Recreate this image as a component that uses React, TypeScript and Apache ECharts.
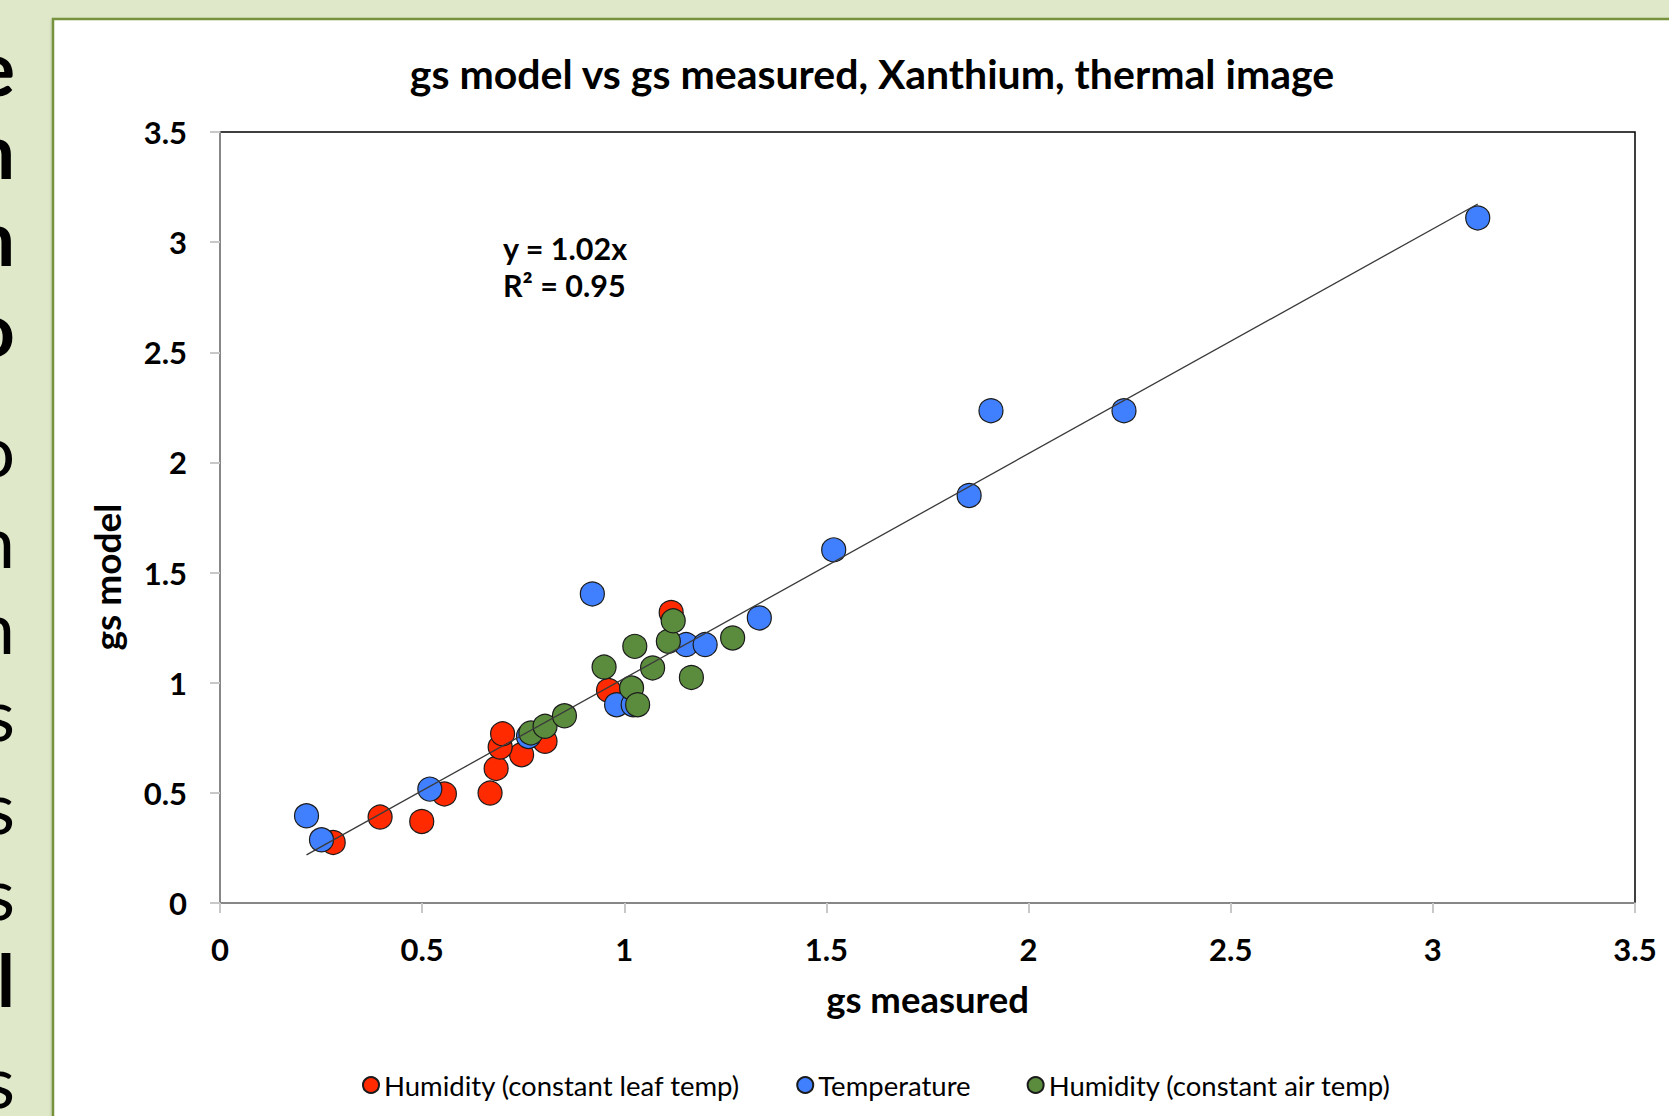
import React, { useEffect, useRef } from "react";
import * as echarts from "echarts";

const seriesNames = [
  "Humidity (constant leaf temp)",
  "Temperature",
  "Humidity (constant air temp)",
];
const seriesColors = ["#ff2a00", "#4080ff", "#5b8c3e"];

const humidityLeafX = [0.28, 0.396, 0.499, 0.555, 0.668, 0.683, 0.746, 0.693, 0.699, 0.804, 0.961, 1.116];
const humidityLeafY = [0.275, 0.39, 0.37, 0.495, 0.499, 0.611, 0.673, 0.708, 0.768, 0.734, 0.965, 1.319];

const temperatureX = [0.214, 0.251, 0.519, 0.763, 0.921, 0.981, 1.022, 1.153, 1.2, 1.334, 1.518, 1.853, 1.907, 2.236, 3.111];
const temperatureY = [0.396, 0.287, 0.517, 0.756, 1.403, 0.9, 0.9, 1.173, 1.173, 1.294, 1.603, 1.85, 2.235, 2.235, 3.11];

const humidityAirX = [0.769, 0.804, 0.852, 0.95, 1.026, 1.07, 1.018, 1.033, 1.109, 1.121, 1.166, 1.268];
const humidityAirY = [0.772, 0.802, 0.85, 1.071, 1.165, 1.067, 0.976, 0.9, 1.188, 1.281, 1.024, 1.203];

const trendSlope = 1.02;
const rSquared = 0.95;
const axisMin = 0;
const axisMax = 3.5;
const axisStep = 0.5;

const titleText = "gs model vs gs measured, Xanthium, thermal image";
const xAxisTitle = "gs measured";
const yAxisTitle = "gs model";

const sideLetters = ["e", "n", "n", "o", "o", "n", "n", "s", "s", "s", "l", "s"];
const sideLetterY = [66, 149, 236, 327, 449, 540, 626, 713, 806, 892, 979, 1080];

const FONT = "Lato, 'Open Sans', sans-serif";

function pairs(xs: number[], ys: number[]) {
  return xs.map((x, i) => [x, ys[i]]);
}

export default function App() {
  const ref = useRef<HTMLDivElement>(null);
  useEffect(() => {
    if (!ref.current) return;
    const chart = echarts.init(ref.current, undefined, { renderer: "svg" });
    const allX = [...humidityLeafX, ...temperatureX, ...humidityAirX];
    const xLo = Math.min(...allX);
    const xHi = Math.max(...allX);
    const trend = [
      [xLo, trendSlope * xLo],
      [xHi, trendSlope * xHi],
    ];
    const dataSets = [
      pairs(humidityLeafX, humidityLeafY),
      pairs(temperatureX, temperatureY),
      pairs(humidityAirX, humidityAirY),
    ];
    const sideGraphics = sideLetters.map((ch, i) => ({
      type: "text",
      x: 15,
      y: sideLetterY[i],
      style: {
        text: ch,
        fontFamily: FONT,
        fontWeight: i < 4 || i === 10 ? "bold" : "normal",
        fontSize: i < 4 ? 76 : 72,
        lineHeight: 60,
        fill: "#000",
        align: "right",
        verticalAlign: "middle",
      },
    }));
    chart.setOption({
      animation: false,
      backgroundColor: "#dfe8c9",
      title: {
        text: titleText,
        left: 867,
        top: 48,
        textAlign: "center",
        textStyle: { fontFamily: FONT, fontWeight: "bold", fontSize: 41, color: "#000" },
      },
      legend: {
        data: seriesNames,
        left: 357,
        top: 1066,
        itemGap: 56,
        itemWidth: 16,
        itemHeight: 16,
        icon: "circle",
        textStyle: { fontFamily: FONT, fontSize: 27.5, color: "#000" },
      },
      grid: {
        left: 220,
        top: 132,
        width: 1415,
        height: 771,
        show: true,
        borderColor: "#000",
        borderWidth: 1.5,
        backgroundColor: "#fff",
      },
      xAxis: {
        type: "value",
        min: axisMin,
        max: axisMax,
        interval: axisStep,
        name: xAxisTitle,
        nameLocation: "middle",
        nameGap: 77,
        nameTextStyle: { fontFamily: FONT, fontWeight: "bold", fontSize: 36.5, color: "#000" },
        axisLine: { lineStyle: { color: "#878787", width: 2 } },
        axisTick: { show: true, length: 10, lineStyle: { color: "#c8c8c8", width: 2 } },
        axisLabel: { margin: 30, fontFamily: FONT, fontWeight: "bold", fontSize: 31, color: "#000" },
        splitLine: { show: false },
      },
      yAxis: {
        type: "value",
        min: axisMin,
        max: axisMax,
        interval: axisStep,
        axisLine: { show: true, lineStyle: { color: "#878787", width: 2 } },
        axisTick: { show: true, length: 10, lineStyle: { color: "#c8c8c8", width: 2 } },
        axisLabel: { margin: 33, fontFamily: FONT, fontWeight: "bold", fontSize: 31, color: "#000" },
        splitLine: { show: false },
      },
      graphic: [
        {
          type: "rect",
          z: -10,
          shape: { x: 53, y: 19, width: 1700, height: 1200 },
          style: { fill: "#fff", stroke: "#76923c", lineWidth: 2.5, shadowColor: "rgba(0,0,0,0.25)", shadowBlur: 3, shadowOffsetY: 2 },
        },
        ...sideGraphics,
        {
          type: "text",
          x: 106,
          y: 577,
          rotation: Math.PI / 2,
          style: {
            text: yAxisTitle,
            fontFamily: FONT,
            fontWeight: "bold",
            fontSize: 37,
            fill: "#000",
            align: "center",
            verticalAlign: "middle",
          },
        },
        {
          type: "text",
          x: 503,
          y: 229,
          z: 10,
          style: {
            text: `y = ${trendSlope.toFixed(2)}x\nR² = ${rSquared.toFixed(2)}`,
            fontFamily: FONT,
            fontWeight: "bold",
            fontSize: 30.5,
            lineHeight: 37,
            fill: "#000",
            align: "left",
            verticalAlign: "top",
          },
        },
      ],
      series: [
        ...dataSets.map((d, i) => ({
          type: "scatter",
          name: seriesNames[i],
          data: d,
          symbol: "circle",
          symbolSize: 24,
          itemStyle: { color: seriesColors[i], borderColor: "#1a1a1a", borderWidth: 1.2, opacity: 1 },
          z: 2 + i,
        })),
        {
          type: "line",
          name: "Linear trend",
          data: trend,
          showSymbol: false,
          symbol: "none",
          lineStyle: { color: "#3a3a3a", width: 1.3 },
          z: 10,
          silent: true,
        },
      ],
    });
    return () => chart.dispose();
  }, []);
  return (
    <div
      ref={ref}
      style={{ position: "fixed", left: 0, top: 0, width: 1669, height: 1116 }}
    />
  );
}
